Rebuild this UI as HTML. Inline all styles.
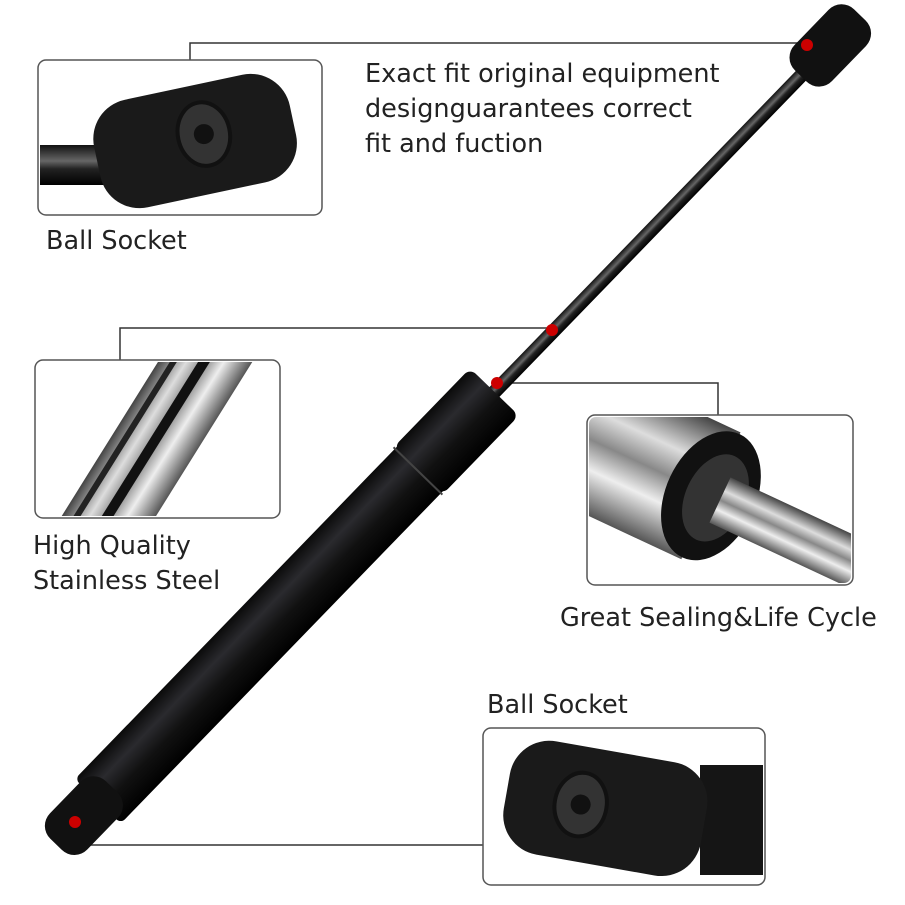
<!DOCTYPE html>
<html><head><meta charset="utf-8"><style>
html,body{margin:0;padding:0;background:#fff;}
svg{display:block;}
text{font-family:"DejaVu Sans","Liberation Sans",sans-serif;fill:#222;font-size:25.5px;}
</style></head><body>
<svg width="905" height="905" viewBox="0 0 905 905" xmlns="http://www.w3.org/2000/svg">
<defs>
<linearGradient id="rod" x1="0" y1="0" x2="0" y2="1">
<stop offset="0" stop-color="#111"/><stop offset="0.4" stop-color="#666"/><stop offset="0.6" stop-color="#222"/><stop offset="1" stop-color="#000"/></linearGradient>
<linearGradient id="body" x1="0" y1="0" x2="0" y2="1">
<stop offset="0" stop-color="#0a0a0a"/><stop offset="0.3" stop-color="#2a2a2e"/><stop offset="0.6" stop-color="#111"/><stop offset="1" stop-color="#000"/></linearGradient>
<linearGradient id="steel" x1="0" y1="0" x2="0" y2="1">
<stop offset="0" stop-color="#444"/><stop offset="0.3" stop-color="#ddd"/><stop offset="0.5" stop-color="#888"/><stop offset="0.7" stop-color="#eee"/><stop offset="1" stop-color="#555"/></linearGradient>
</defs>

<g stroke="#333" stroke-width="1.5" fill="none">
<polyline points="190,60 190,43 805,43"/>
<polyline points="120,360 120,328 552,328"/>
<polyline points="497,383 718,383 718,415"/>
<polyline points="75,845 483,845"/>
</g>

<g transform="translate(70,830) rotate(-45.9)">
<rect x="590" y="-7" width="520" height="14" fill="url(#rod)"/>
<rect x="40" y="-32" width="540" height="64" rx="6" fill="url(#body)"/>
<rect x="500" y="-34" width="110" height="68" rx="8" fill="url(#body)"/>
<line x1="500" y1="-34" x2="500" y2="34" stroke="#444" stroke-width="2"/>
<rect x="1050" y="-26" width="85" height="52" rx="18" fill="#111"/>
<rect x="-20" y="-26" width="80" height="52" rx="18" fill="#111"/>
</g>
<circle cx="807" cy="45" r="6" fill="#c00"/>
<circle cx="552" cy="330" r="6" fill="#c00"/>
<circle cx="497" cy="383" r="6" fill="#c00"/>
<circle cx="75" cy="822" r="6" fill="#c00"/>

<rect x="38" y="60" width="284" height="155" rx="8" fill="#fff" stroke="#555" stroke-width="1.5"/>
<g>
<rect x="40" y="145" width="80" height="40" fill="url(#rod)"/>
<g transform="rotate(-12 200 140)"><rect x="95" y="85" width="200" height="110" rx="40" fill="#1a1a1a"/>
<ellipse cx="205" cy="135" rx="26" ry="32" fill="#333" stroke="#111" stroke-width="4"/>
<circle cx="205" cy="135" r="10" fill="#111"/></g>
</g>
<text x="46" y="249">Ball Socket</text>

<text x="365" y="82">Exact fit original equipment</text>
<text x="365" y="117">designguarantees correct</text>
<text x="365" y="152">fit and fuction</text>

<rect x="35" y="360" width="245" height="158" rx="8" fill="#fff" stroke="#555" stroke-width="1.5"/>
<clipPath id="c2"><rect x="37" y="362" width="241" height="154" rx="7"/></clipPath>
<g clip-path="url(#c2)">
<g transform="translate(157,439) rotate(-58)"><rect x="-200" y="-40" width="400" height="80" fill="url(#steel)"/>
<rect x="-200" y="-6" width="400" height="10" fill="#111"/><rect x="-200" y="-30" width="400" height="6" fill="#222"/></g>
</g>
<text x="33" y="554">High Quality</text>
<text x="33" y="589">Stainless Steel</text>

<rect x="587" y="415" width="266" height="170" rx="8" fill="#fff" stroke="#555" stroke-width="1.5"/>
<clipPath id="c3"><rect x="589" y="417" width="262" height="166" rx="7"/></clipPath>
<g clip-path="url(#c3)">
<g transform="translate(720,500) rotate(25)">
<rect x="-180" y="-70" width="170" height="140" fill="url(#steel)"/>
<ellipse cx="-10" cy="0" rx="45" ry="68" fill="#111"/>
<ellipse cx="-5" cy="0" rx="30" ry="46" fill="#333"/>
<rect x="0" y="-25" width="200" height="50" fill="url(#steel)"/>
</g>
</g>
<text x="560" y="626">Great Sealing&amp;Life Cycle</text>

<text x="487" y="713">Ball Socket</text>
<rect x="483" y="728" width="282" height="157" rx="8" fill="#fff" stroke="#555" stroke-width="1.5"/>
<clipPath id="c4"><rect x="485" y="730" width="278" height="153" rx="7"/></clipPath>
<g clip-path="url(#c4)">
<rect x="700" y="765" width="70" height="110" fill="#151515"/>
<g transform="rotate(10 600 810)"><rect x="505" y="750" width="200" height="115" rx="40" fill="#1a1a1a"/>
<ellipse cx="580" cy="808" rx="26" ry="32" fill="#333" stroke="#111" stroke-width="4"/>
<circle cx="580" cy="808" r="10" fill="#111"/></g>
</g>
</svg>
</body></html>
